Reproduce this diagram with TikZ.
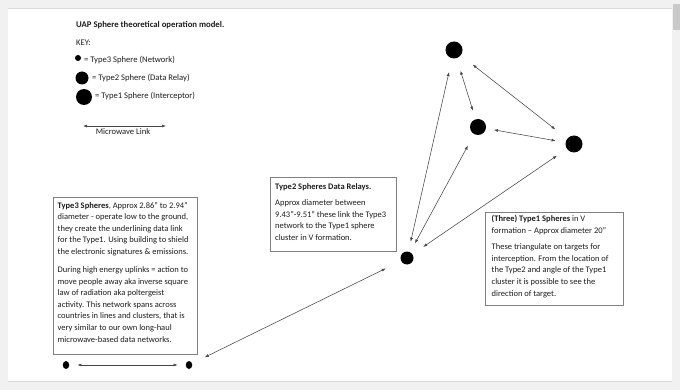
\documentclass[tikz,border=0pt]{standalone}
\usepackage{fontspec}
\setmainfont{Carlito}
\usetikzlibrary{arrows.meta,shapes.geometric}
\definecolor{pagegray}{HTML}{F1F1F1}
\definecolor{edgegray}{HTML}{DADADA}
\definecolor{thumbgray}{HTML}{C9C9C9}
\definecolor{inkgray}{HTML}{1E1E1E}
\definecolor{boxgray}{HTML}{808080}
\tikzset{
  sph/.style={circle, fill=black, inner sep=0pt},
  lnk/.style={{Latex[length=4pt,width=3pt]}-{Latex[length=4pt,width=3pt]}, line width=0.55pt, draw=black!72},
  infobox/.style={draw=boxgray, line width=0.8pt, inner sep=0pt, anchor=north west},
  txt/.style={font=\fontsize{8.5}{11.6}\selectfont, align=left, inner sep=0pt, text=inkgray, anchor=north west},
  keytxt/.style={font=\fontsize{8.6}{10}\selectfont, inner sep=0pt, text=inkgray, anchor=west},
}
\begin{document}
\begin{tikzpicture}[x=1pt,y=-1pt]
\useasboundingbox (0,0) rectangle (680,390);
% page background
\fill[pagegray] (0,0) rectangle (680,390);
\fill[white] (8,8) rectangle (672,381);
\draw[edgegray, line width=0.6pt] (8,8) -- (672,8);
\draw[edgegray, line width=0.6pt] (8,381) -- (672,381);
\fill[thumbgray] (673,4) rectangle (680,30);

% title and key
\node[keytxt, font=\fontsize{8.7}{10}\selectfont\bfseries] (title) at (76,25) {UAP Sphere theoretical operation model.};
\node[keytxt] (key) at (76,43) {KEY:};
\node[sph, minimum size=6pt] (k3) at (78,58) {};
\node[keytxt] (k3t) at (84,60) {= Type3 Sphere (Network)};
\node[sph, minimum size=13pt] (k2) at (82,78) {};
\node[keytxt] (k2t) at (92,78) {= Type2 Sphere (Data Relay)};
\node[sph, minimum size=16pt] (k1) at (84,97) {};
\node[keytxt] (k1t) at (95,96) {= Type1 Sphere (Interceptor)};
\coordinate (mwl) at (83,126);
\coordinate (mwr) at (166,126);
\draw[lnk] (mwl) -- (mwr);
\node[keytxt, anchor=center] (mwt) at (123,132) {Microwave Link};

% boxes
\node[infobox, minimum width=144pt, minimum height=157pt] (box1) at (53,197) {};
\node[txt] (t1) at (57.5,202) {\textbf{Type3 Spheres}, Approx 2.86” to 2.94”\\
diameter - operate low to the ground,\\
they create the underlining data link\\
for the Type1. Using building to shield\\
the electronic signatures \& emissions.\\[6.3pt]
During high energy uplinks = action to\\
move people away aka inverse square\\
law of radiation aka poltergeist\\
activity. This network spans across\\
countries in lines and clusters, that is\\
very similar to our own long-haul\\
microwave-based data networks.};

\node[infobox, minimum width=126pt, minimum height=74pt] (box2) at (270,177) {};
\node[txt] (t2) at (275,183) {\textbf{Type2 Spheres Data Relays.}\\[5pt]
Approx diameter between\\
9.43”-9.51” these link the Type3\\
network to the Type1 sphere\\
cluster in V formation.};

\node[infobox, minimum width=138pt, minimum height=93pt] (box3) at (485,212) {};
\node[txt] (t3) at (491.5,215) {\textbf{(Three) Type1 Spheres} in V\\
formation – Approx diameter 20”\\[5pt]
These triangulate on targets for\\
interception. From the location of\\
the Type2 and angle of the Type1\\
cluster it is possible to see the\\
direction of target.};

% spheres
\node[sph, minimum size=17pt] (A) at (454,50) {};
\node[sph, minimum size=16pt] (B) at (478,127) {};
\node[sph, minimum size=17pt] (C) at (574,144) {};
\node[sph, minimum size=13pt] (D) at (407,258) {};
\node[ellipse, fill=black, inner sep=0pt, minimum width=6.5pt, minimum height=8pt] (E) at (189,365) {};
\node[ellipse, fill=black, inner sep=0pt, minimum width=6.5pt, minimum height=8pt] (F) at (66,365) {};

% links
\draw[lnk, shorten <=13pt, shorten >=9pt] (A) -- (B);
\draw[lnk, shorten <=15pt, shorten >=15pt] (A) -- (C);
\draw[lnk, shorten <=8pt, shorten >=10pt] (B) -- (C);
\draw[lnk, shorten <=14pt, shorten >=10pt] (A) -- (D);
\draw[lnk, shorten <=13pt, shorten >=10pt] (B) -- (D);
\draw[lnk, shorten <=12pt, shorten >=13pt] (C) -- (D);
\draw[lnk, shorten <=17pt, shorten >=14pt] (D) -- (E);
\draw[lnk, shorten <=8pt, shorten >=8pt] (F) -- (E);
\end{tikzpicture}
\end{document}
